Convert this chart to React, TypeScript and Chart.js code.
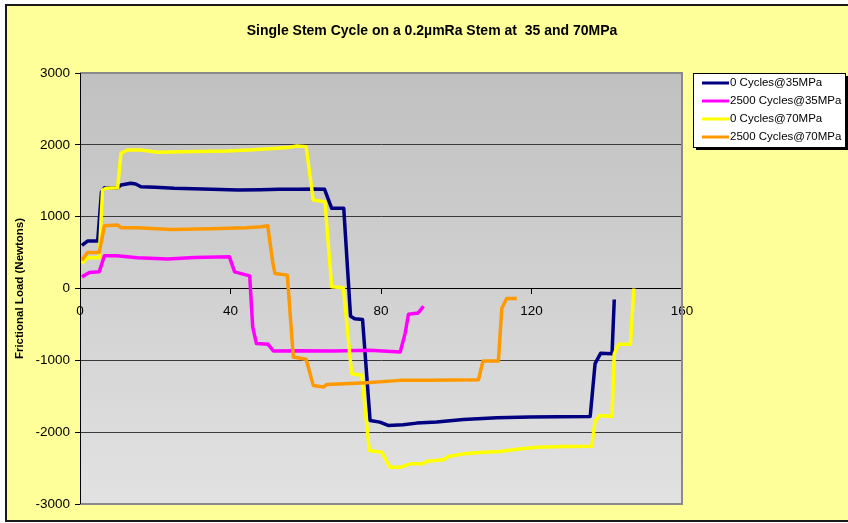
import React, { useEffect, useRef } from "react";
import { Chart, registerables } from "chart.js";

Chart.register(...registerables);

const chartTitle = "Single Stem Cycle on a 0.2µmRa Stem at  35 and 70MPa";
const yAxisTitle = "Frictional Load (Newtons)";
const seriesLabels = ["0 Cycles@35MPa", "2500 Cycles@35MPa", "0 Cycles@70MPa", "2500 Cycles@70MPa"];
const seriesColors = ["#000080", "#FF00FF", "#FFFF00", "#FF9900"];

const xMin = 0;
const xMax = 160;
const xStep = 40;
const yMin = -3000;
const yMax = 3000;
const yStep = 1000;

// 0 Cycles @ 35MPa
const navyX = [0.5, 2, 4.7, 5.7, 6.5, 10, 10.9, 13.5, 14.8, 16.2, 20, 25, 30, 35, 42, 48, 53, 58, 62, 65, 66.9, 70.1, 71.9, 73, 75.1, 77.1, 79.7, 81.9, 85.9, 89.5, 94.8, 101.9, 110.8, 119.6, 127, 135.6, 136.9, 138.4, 141.4, 142];
const navyY = [600, 660, 660, 1343, 1403, 1403, 1440, 1465, 1455, 1417, 1410, 1395, 1390, 1380, 1371, 1375, 1381, 1380, 1385, 1381, 1116, 1116, -386, -420, -432, -1837, -1860, -1907, -1897, -1874, -1860, -1823, -1800, -1790, -1785, -1781, -1046, -900, -910, -153];

// 2500 Cycles @ 35MPa
const magentaX = [0.5, 2.5, 5.1, 6.5, 9.8, 15.3, 23.3, 30.4, 39.7, 41.1, 45.1, 45.9, 46.9, 50, 51.4, 58.4, 67.3, 77, 85.1, 86.4, 87.3, 89.9, 91.3];
const magentaY = [162, 223, 232, 455, 455, 427, 409, 432, 441, 232, 176, -535, -767, -777, -870, -865, -870, -860, -884, -628, -358, -340, -247];

// 0 Cycles @ 70MPa
const yellowX = [0.5, 2, 5.1, 6, 6.9, 10, 10.9, 12.7, 16.1, 20.7, 30.4, 39.3, 46, 52.6, 55.8, 57.6, 60.1, 62, 65.1, 66.9, 70, 72.2, 74.9, 76.9, 80.2, 82.4, 85.1, 87.7, 91.1, 92.2, 96.6, 97.9, 101.9, 107.2, 111.6, 116.1, 121.4, 128.5, 136, 136.9, 138.2, 141.4, 142, 143.2, 146.3, 147.2];
const yellowY = [349, 427, 427, 1371, 1395, 1403, 1883, 1929, 1929, 1897, 1906, 1915, 1930, 1953, 1967, 1985, 1975, 1232, 1208, 23, 9, -1186, -1209, -2256, -2279, -2489, -2489, -2441, -2441, -2405, -2385, -2339, -2302, -2279, -2270, -2237, -2209, -2200, -2195, -1846, -1767, -1781, -907, -777, -777, 0];

// 2500 Cycles @ 70MPa
const orangeX = [0.5, 2, 5.1, 6.5, 10, 10.9, 15.3, 24.2, 34.8, 44, 48.2, 49.9, 51.2, 51.8, 55.1, 56.7, 60.1, 62, 64.7, 65.6, 76.2, 85.1, 93, 105.9, 107.1, 111.2, 112.1, 113.4, 116.1];
const orangeY = [395, 502, 502, 873, 883, 846, 846, 823, 832, 845, 860, 873, 371, 209, 186, -954, -986, -1349, -1372, -1335, -1311, -1279, -1279, -1270, -1010, -1010, -279, -140, -140];

const seriesXs = [navyX, magentaX, yellowX, orangeX];
const seriesYs = [navyY, magentaY, yellowY, orangeY];

const FONT = "'Liberation Sans', Arial, sans-serif";

export default function App() {
  const canvasRef = useRef<HTMLCanvasElement | null>(null);

  useEffect(() => {
    document.body.style.margin = "0";
    const canvas = canvasRef.current;
    if (!canvas) return;

    const decor = {
      id: "decor",
      beforeDraw(chart: any) {
        const { ctx, chartArea } = chart;
        ctx.save();
        ctx.fillStyle = "#ffffff";
        ctx.fillRect(0, 0, chart.width, chart.height);
        ctx.fillStyle = "#FFFF99";
        ctx.fillRect(6, 5, 860, 516);
        ctx.strokeStyle = "#1a1a1a";
        ctx.lineWidth = 2;
        ctx.strokeRect(6, 5, 860, 516);
        const g = ctx.createLinearGradient(0, chartArea.top, 0, chartArea.bottom);
        g.addColorStop(0, "#C0C0C0");
        g.addColorStop(1, "#E2E2E2");
        ctx.fillStyle = g;
        ctx.fillRect(chartArea.left, chartArea.top, chartArea.right - chartArea.left, chartArea.bottom - chartArea.top);
        ctx.restore();
      },
      beforeDatasetsDraw(chart: any) {
        const { ctx, chartArea } = chart;
        ctx.save();
        ctx.strokeStyle = "#8a8a8a";
        ctx.lineWidth = 2;
        ctx.beginPath();
        ctx.moveTo(chartArea.left, chartArea.top);
        ctx.lineTo(chartArea.right, chartArea.top);
        ctx.lineTo(chartArea.right, chartArea.bottom);
        ctx.lineTo(chartArea.left, chartArea.bottom);
        ctx.stroke();
        ctx.strokeStyle = "#000";
        ctx.lineWidth = 1;
        ctx.beginPath();
        ctx.moveTo(chartArea.left + 0.5, chartArea.top);
        ctx.lineTo(chartArea.left + 0.5, chartArea.bottom);
        ctx.stroke();
        ctx.restore();
      },
      afterDraw(chart: any) {
        const { ctx } = chart;
        ctx.save();
        // title
        ctx.fillStyle = "#000";
        ctx.font = `bold 14px ${FONT}`;
        ctx.textAlign = "center";
        ctx.textBaseline = "middle";
        ctx.fillText(chartTitle, 432, 31);
        // legend
        const lx = 693, ly = 73, lw = 152, lh = 74;
        ctx.fillStyle = "#000";
        ctx.fillRect(lx + 3, ly + 3, lw, lh);
        ctx.fillStyle = "#fff";
        ctx.fillRect(lx, ly, lw, lh);
        ctx.strokeStyle = "#000";
        ctx.lineWidth = 1;
        ctx.strokeRect(lx + 0.5, ly + 0.5, lw, lh);
        ctx.font = `11.5px ${FONT}`;
        ctx.textAlign = "left";
        ctx.textBaseline = "middle";
        chart.data.datasets.forEach((ds: any, i: number) => {
          const y = 83 + i * 18;
          ctx.strokeStyle = ds.borderColor;
          ctx.lineWidth = 3;
          ctx.beginPath();
          ctx.moveTo(702, y);
          ctx.lineTo(729, y);
          ctx.stroke();
          ctx.fillStyle = "#000";
          ctx.fillText(ds.label, 730, y);
        });
        ctx.restore();
      },
    };

    const datasets = seriesLabels.map((label, i) => ({
      label,
      data: seriesXs[i].map((x, j) => ({ x, y: seriesYs[i][j] })),
      borderColor: seriesColors[i],
      backgroundColor: seriesColors[i],
      borderWidth: 3.5,
      pointRadius: 0,
      tension: 0,
      fill: false,
      borderJoinStyle: "round" as const,
      order: 4 - i,
    }));

    const chart = new Chart(canvas, {
      type: "line",
      data: { datasets },
      options: {
        animation: false,
        responsive: false,
        maintainAspectRatio: false,
        layout: { padding: { left: 0, top: 73, right: 166, bottom: 19 } },
        plugins: {
          legend: { display: false },
          title: { display: false },
          tooltip: { enabled: false },
        },
        scales: {
          x: {
            type: "linear",
            min: xMin,
            max: xMax,
            position: { y: 0 } as any,
            ticks: {
              stepSize: xStep,
              color: "#000",
              font: { family: FONT, size: 13.5 },
              padding: 10,
              maxRotation: 0,
              callback: (v: any) => String(v),
            },
            grid: { drawOnChartArea: false, drawTicks: true, tickLength: 5, tickColor: "#000", color: "#000" },
            border: { display: true, color: "#000", width: 1 },
          },
          y: {
            type: "linear",
            min: yMin,
            max: yMax,
            afterFit(scale: any) {
              scale.width = 80;
            },
            ticks: {
              stepSize: yStep,
              color: "#000",
              font: { family: FONT, size: 13.5 },
              padding: 5,
              callback: (v: any) => String(v),
            },
            grid: { color: "#3a3a3a", lineWidth: 1, tickLength: 5, tickColor: "#000" },
            border: { display: true, color: "#000", width: 1 },
            title: {
              display: true,
              text: yAxisTitle,
              color: "#000",
              font: { family: FONT, size: 11.5, weight: "bold" },
              padding: { top: 13, bottom: 0 },
            },
          },
        },
      },
      plugins: [decor],
    });

    return () => chart.destroy();
  }, []);

  return (
    <div style={{ width: 848, height: 523, position: "relative" }}>
      <canvas ref={canvasRef} width={848} height={523} style={{ display: "block", width: 848, height: 523 }} />
    </div>
  );
}
